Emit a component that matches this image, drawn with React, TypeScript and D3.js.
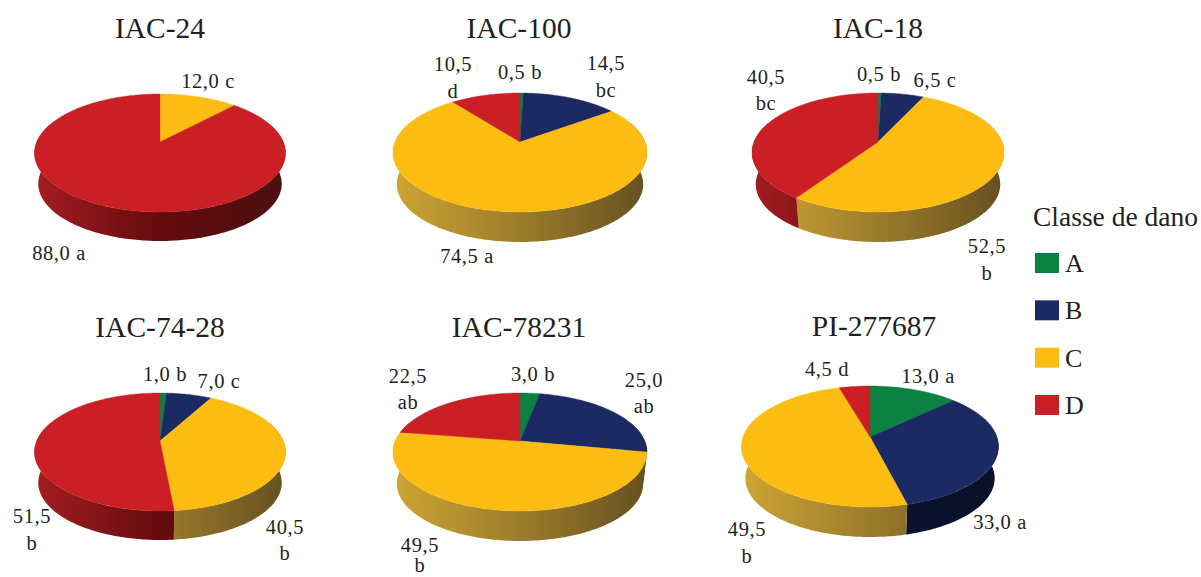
import React from "react";
import * as d3 from "d3";

// Damage class shares per soybean cultivar, in classes A, B, C, D order.
const classes = ["A", "B", "C", "D"];
const classColors = ["#0b8243", "#1b2a63", "#fdbc11", "#c91f25"];
// Rim colours per class: lit left side, middle, dark right side.
const rimColors = [
  ["#0a6a36", "#074a26", "#043018"],
  ["#141f4a", "#0b1233", "#0a1026"],
  ["#cda533", "#9c7c2c", "#665020"],
  ["#a31d22", "#640b0d", "#4a1010"],
];

const iac24 = [0, 0, 12.0, 88.0];
const iac100 = [0.5, 14.5, 74.5, 10.5];
const iac18 = [0.5, 6.5, 52.5, 40.5];
const iac7428 = [1.0, 7.0, 40.5, 51.5];
const iac78231 = [3.0, 25.0, 49.5, 22.5];
const pi277687 = [13.0, 33.0, 49.5, 4.5];

const titles = ["IAC-24", "IAC-100", "IAC-18", "IAC-74-28", "IAC-78231", "PI-277687"];
const series = [iac24, iac100, iac18, iac7428, iac78231, pi277687];

// Disc placement: apex x/y, half width, rear and front reach of the top face, wall height.
const discs = [
  { x: 160, y: 142, w: 125.5, back: 48, front: 70, wall: 29 },
  { x: 520, y: 142, w: 127, back: 49, front: 70, wall: 30 },
  { x: 878, y: 142, w: 126, back: 49, front: 70, wall: 30 },
  { x: 160, y: 441, w: 125.5, back: 48, front: 70, wall: 29 },
  { x: 520, y: 441, w: 127, back: 48, front: 70, wall: 30 },
  { x: 870, y: 437, w: 128.5, back: 51, front: 70, wall: 30 },
];

// Label lines with centre x and baseline y.
type Lab = [string, number, number];
const valueLabels: Lab[][] = [
  [["12,0 c", 208, 88], ["88,0 a", 59, 260]],
  [["10,5", 453, 71], ["d", 453, 98], ["0,5 b", 520, 79], ["14,5", 606, 70], ["bc", 606, 97], ["74,5 a", 467, 263]],
  [["40,5", 766, 84], ["bc", 766, 110], ["0,5 b", 879, 81], ["6,5 c", 935, 87], ["52,5", 987, 253], ["b", 987, 280]],
  [["1,0 b", 165, 381], ["7,0 c", 219, 388], ["51,5", 32, 523], ["b", 32, 550], ["40,5", 285, 534], ["b", 285, 560]],
  [["22,5", 408, 383], ["ab", 408, 409], ["3,0 b", 533, 381], ["25,0", 644, 387], ["ab", 644, 413], ["49,5", 420, 552], ["b", 420, 572]],
  [["4,5 d", 827, 376], ["13,0 a", 928, 383], ["33,0 a", 1000, 529], ["49,5", 747, 536], ["b", 747, 563]],
];
const titleAnchors: [number, number][] = [[160, 38], [519, 38], [878, 38], [160, 337], [519, 337], [874, 336]];

const serif = "'Liberation Serif', 'Times New Roman', serif";
const tau = 2 * Math.PI;

type Disc = (typeof discs)[number];

// Perspective projection of a point on the unit disc; level 0 is the top face, 1 the base.
function projector(d: Disc) {
  const p = (d.front - d.back) / (d.front + d.back);
  const ry = d.front * (1 - p);
  const rx = d.w * Math.sqrt(1 - p * p);
  const shrink = 0.97;
  const drop = d.wall + d.front * (1 - shrink);
  return (angle: number, radius: number, level: number): [number, number] => {
    const u = Math.sin(angle) * radius;
    const v = -Math.cos(angle) * radius;
    const w = 1 - p * v;
    const s = level ? shrink : 1;
    return [d.x + (rx * u * s) / w, d.y + (ry * v * s) / w + level * drop];
  };
}

function sweep(a: number, b: number) {
  const n = Math.max(2, Math.ceil((b - a) / (Math.PI / 180)));
  return d3.range(n + 1).map((i) => a + ((b - a) * i) / n);
}

const line = d3.line<[number, number]>().x((q) => q[0]).y((q) => q[1]);

function Pie3D({ values, disc, index }: { values: number[]; disc: Disc; index: number }) {
  const project = projector(disc);
  const arcs = d3.pie<number>().sort(null).startAngle(0).endAngle(tau)(values);
  const frontFrom = (70 / 180) * Math.PI;
  const frontTo = (290 / 180) * Math.PI;
  return (
    <g>
      <defs>
        {rimColors.map((stops, k) => (
          <linearGradient
            key={k}
            id={`rim-${index}-${k}`}
            gradientUnits="userSpaceOnUse"
            x1={disc.x - disc.w}
            x2={disc.x + disc.w}
            y1={0}
            y2={0}
          >
            {stops.map((c, t) => (
              <stop key={t} offset={t / 2} stopColor={c} />
            ))}
          </linearGradient>
        ))}
      </defs>
      {arcs.map((a, k) => {
        const from = Math.max(a.startAngle, frontFrom);
        const to = Math.min(a.endAngle, frontTo);
        if (to <= from || a.value === 0) return null;
        const angles = sweep(from, to);
        const pts = [
          ...angles.map((t) => project(t, 1, 0)),
          ...angles.slice().reverse().map((t) => project(t, 1, 1)),
        ];
        return <path key={k} d={line(pts) + "Z"} fill={`url(#rim-${index}-${k})`} />;
      })}
      {arcs.map((a, k) => {
        if (a.value === 0) return null;
        const pts = [project(0, 0, 0), ...sweep(a.startAngle, a.endAngle).map((t) => project(t, 1, 0))];
        return <path key={k} d={line(pts) + "Z"} fill={classColors[k]} stroke={classColors[k]} strokeWidth={0.4} />;
      })}
    </g>
  );
}

export default function App() {
  const legendY = d3.scalePoint<string>().domain(classes).range([263, 405]);
  return (
    <svg
      width={1201}
      height={577}
      viewBox="0 0 1201 577"
      style={{ position: "absolute", left: 0, top: 0, background: "#fff" }}
      fontFamily={serif}
      fill="#231f20"
    >
      {series.map((values, i) => (
        <Pie3D key={i} values={values} disc={discs[i]} index={i} />
      ))}
      {titles.map((t, i) => (
        <text key={t} x={titleAnchors[i][0]} y={titleAnchors[i][1]} textAnchor="middle" fontSize={29.5}>
          {t}
        </text>
      ))}
      {valueLabels.flat().map(([t, x, y], i) => (
        <text key={i} x={x} y={y} textAnchor="middle" fontSize={20.5} letterSpacing={0.6}>
          {t}
        </text>
      ))}
      <text x={1033} y={226} fontSize={27.5}>
        Classe de dano
      </text>
      {classes.map((c, k) => (
        <g key={c}>
          <rect x={1035} y={legendY(c)! - 10} width={24} height={20} fill={classColors[k]} />
          <text x={1065} y={legendY(c)! + 9} fontSize={26}>
            {c}
          </text>
        </g>
      ))}
    </svg>
  );
}
